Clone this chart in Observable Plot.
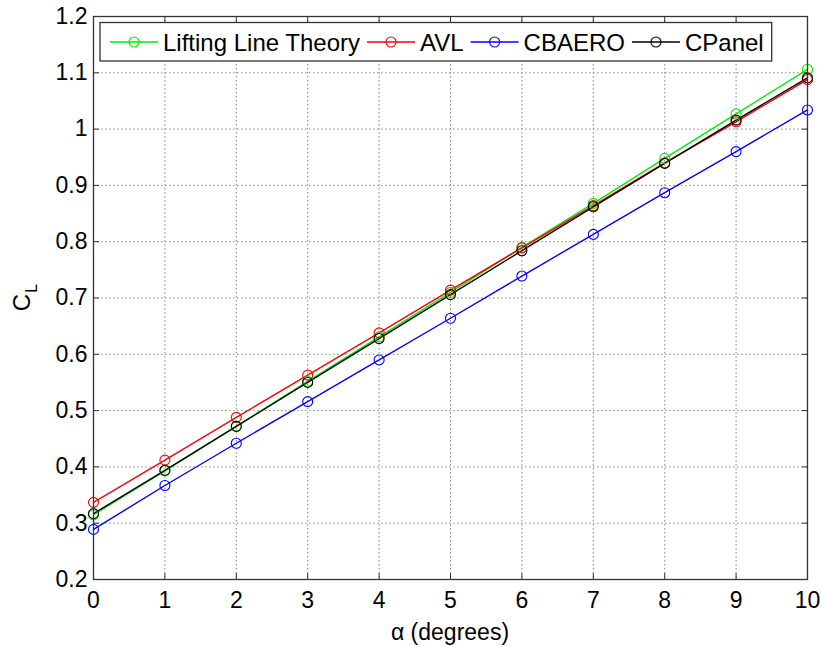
<!DOCTYPE html>
<html>
<head>
<meta charset="utf-8">
<script src="https://cdn.jsdelivr.net/npm/d3@7"></script>
<script src="https://cdn.jsdelivr.net/npm/@observablehq/plot@0.6"></script>
<style>
  html, body { margin: 0; padding: 0; background: #fff; }
  #chart svg { display: block; }
</style>
</head>
<body>
<div id="chart"></div>
<script>
// ---- data ----
const alpha = [0, 1, 2, 3, 4, 5, 6, 7, 8, 9, 10];
const liftingLine = [0.315, 0.393, 0.472, 0.552, 0.631, 0.710, 0.790, 0.868, 0.948, 1.027, 1.106];
const avl        = [0.337, 0.412, 0.488, 0.563, 0.638, 0.714, 0.789, 0.864, 0.940, 1.013, 1.088];
const cbaero     = [0.289, 0.367, 0.442, 0.516, 0.590, 0.664, 0.739, 0.813, 0.887, 0.960, 1.034];
const cpanel     = [0.317, 0.394, 0.472, 0.550, 0.628, 0.706, 0.784, 0.862, 0.939, 1.016, 1.091];
const seriesNames = ["Lifting Line Theory", "AVL", "CBAERO", "CPanel"];
const seriesColors = ["#00ee00", "#ff0000", "#0000ff", "#000000"];
const xTicks = [0, 1, 2, 3, 4, 5, 6, 7, 8, 9, 10];
const yTicks = [0.2, 0.3, 0.4, 0.5, 0.6, 0.7, 0.8, 0.9, 1.0, 1.1, 1.2];

const seriesValues = [liftingLine, avl, cbaero, cpanel];
const rows = [];
seriesNames.forEach((name, i) => {
  alpha.forEach((a, j) => rows.push({series: name, alpha: a, cl: seriesValues[i][j]}));
});

const FONT = "'Liberation Sans', Arial, Helvetica, sans-serif";
const yFmt = d => {
  const v = Math.round(d * 10) / 10;
  return v === 1 ? "1" : v.toFixed(1);
};

const chart = Plot.plot({
  width: 822,
  height: 647,
  marginLeft: 93,
  marginRight: 15,
  marginTop: 16,
  marginBottom: 68,
  style: {fontFamily: FONT, fontSize: "23px", background: "#fff", color: "#000"},
  x: {domain: [0, 10], ticks: xTicks},
  y: {domain: [0.2, 1.2], ticks: yTicks},
  color: {domain: seriesNames, range: seriesColors},
  marks: [
    Plot.gridX(xTicks, {stroke: "#888", strokeOpacity: 1, strokeWidth: 1, strokeDasharray: "1.5,2.5"}),
    Plot.gridY(yTicks, {stroke: "#888", strokeOpacity: 1, strokeWidth: 1, strokeDasharray: "1.5,2.5"}),
    // tick labels
    Plot.axisX(xTicks, {anchor: "bottom", tickSize: 0, tickPadding: 12, label: null, fontSize: 23}),
    Plot.axisY(yTicks, {anchor: "left", tickSize: 0, tickPadding: 6, label: null, tickFormat: yFmt, fontSize: 23}),
    // inward tick marks on all four sides
    Plot.axisX(xTicks, {anchor: "bottom", tickSize: -6, tickFormat: () => "", label: null, stroke: "#333"}),
    Plot.axisX(xTicks, {anchor: "top", tickSize: -6, tickFormat: () => "", label: null, stroke: "#333"}),
    Plot.axisY(yTicks, {anchor: "left", tickSize: -6, tickFormat: () => "", label: null, stroke: "#333"}),
    Plot.axisY(yTicks, {anchor: "right", tickSize: -6, tickFormat: () => "", label: null, stroke: "#333"}),
    Plot.line(rows, {x: "alpha", y: "cl", z: "series", stroke: "series", strokeWidth: 1.4}),
    Plot.dot(rows, {x: "alpha", y: "cl", stroke: "series", r: 5, strokeWidth: 1.1, fill: "none"}),
    Plot.frame({stroke: "#333", strokeWidth: 1.3})
  ]
});

document.getElementById("chart").appendChild(chart);

// ---- axis titles and legend (added to the Plot SVG) ----
const svg = d3.select(chart);
// x label
svg.append("text")
  .attr("x", (93 + 807) / 2)
  .attr("y", 640)
  .attr("text-anchor", "middle")
  .style("font-family", FONT)
  .style("font-size", "23px")
  .attr("fill", "#000")
  .text("\u03B1 (degrees)");
// y label C_L
const yl = svg.append("text")
  .attr("transform", `translate(30, ${(16 + 579) / 2}) rotate(-90)`)
  .attr("text-anchor", "middle")
  .style("font-family", FONT)
  .style("font-size", "24px")
  .attr("fill", "#000");
yl.append("tspan").text("C");
yl.append("tspan").style("font-size", "16px").attr("dy", 7).attr("dx", 1).text("L");

// legend
const lg = svg.append("g");
const box = lg.append("rect")
  .attr("x", 100).attr("y", 22.5).attr("height", 38.5)
  .attr("fill", "#fff").attr("stroke", "#333").attr("stroke-width", 1.3);
let cx = 110;
const cy = 42;
seriesNames.forEach((name, i) => {
  const col = seriesColors[i];
  lg.append("line").attr("x1", cx).attr("x2", cx + 48).attr("y1", cy).attr("y2", cy)
    .attr("stroke", col).attr("stroke-width", 1.4);
  lg.append("circle").attr("cx", cx + 24).attr("cy", cy).attr("r", 5)
    .attr("fill", "none").attr("stroke", col).attr("stroke-width", 1.1);
  const t = lg.append("text").attr("x", cx + 53).attr("y", cy).attr("dy", "0.36em")
    .attr("text-anchor", "start")
    .style("font-family", FONT).style("font-size", "24px").attr("fill", "#000").text(name);
  const w = t.node().getComputedTextLength();
  cx = cx + 53 + w + 7;
});
box.attr("width", cx - 7 + 8 - 100);
</script>
</body>
</html>
